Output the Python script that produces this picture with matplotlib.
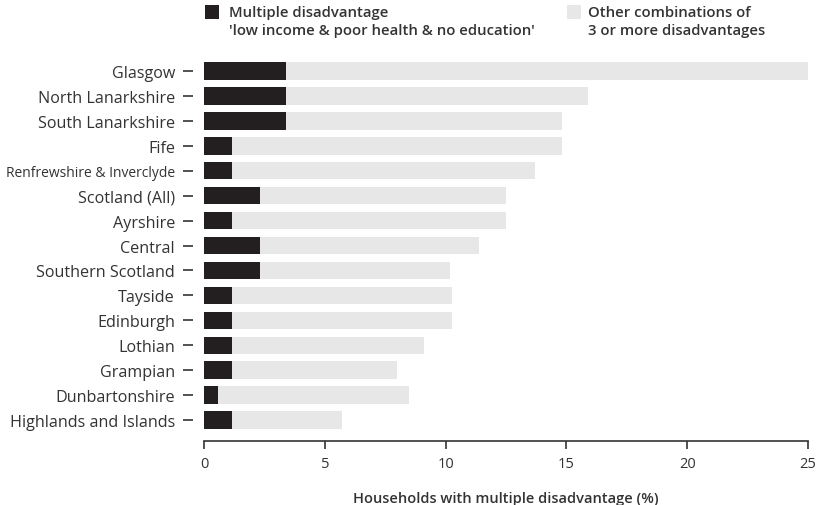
import matplotlib
matplotlib.use("Agg")
import matplotlib.pyplot as plt
from matplotlib.patches import Rectangle
import matplotlib.transforms as mtrans

regions = ["Glasgow", "North Lanarkshire", "South Lanarkshire", "Fife",
           "Renfrewshire & Inverclyde", "Scotland (All)", "Ayrshire", "Central",
           "Southern Scotland", "Tayside", "Edinburgh", "Lothian", "Grampian",
           "Dunbartonshire", "Highlands and Islands"]
multiple = [3.4, 3.4, 3.4, 1.15, 1.15, 2.3, 1.15, 2.3, 2.3, 1.15, 1.15, 1.15, 1.15, 0.6, 1.15]
other = [21.6, 12.5, 11.4, 13.65, 12.55, 10.2, 11.35, 9.1, 7.9, 9.1, 9.1, 7.95, 6.85, 7.9, 4.55]
xticks = [0, 5, 10, 15, 20, 25]
legend_multiple = ["Multiple disadvantage", "'low income & poor health & no education'"]
legend_other = ["Other combinations of", "3 or more disadvantages"]

DARK = "#231f20"
GREY = "#e6e7e6"
TXT = "#333333"
plt.rcParams['font.family'] = ['Open Sans', 'DejaVu Sans']

fig = plt.figure(figsize=(8.23, 5.06), dpi=100)
ax = fig.add_axes([204/823, 0.1265, 604/823, 0.7559])

y = list(range(len(regions)))
ax.barh(y, multiple, height=0.7, color=DARK, linewidth=0)
ax.barh(y, other, left=multiple, height=0.7, color=GREY, linewidth=0)

ax.set_xlim(0, 25)
ax.set_ylim(14.84, -0.5)
ax.set_xticks(xticks)
ax.set_xticklabels([str(t) for t in xticks], fontsize=10.5, color=TXT)
ax.set_yticks(y)
ax.set_yticklabels(regions, fontsize=11.6, color=TXT)
for lbl in ax.get_yticklabels():
    if lbl.get_text().startswith("Renfrewshire"):
        lbl.set_fontsize(10)

for s in ["top", "right", "left"]:
    ax.spines[s].set_visible(False)
ax.spines["bottom"].set_color(TXT)
ax.spines["bottom"].set_linewidth(1.2)
ax.tick_params(axis="x", direction="out", length=6, width=1.2, color=TXT, pad=5)
ax.tick_params(axis="y", direction="out", length=7, width=1.2, color=TXT, pad=6)
offset = mtrans.ScaledTranslation(-11/100, 0, fig.dpi_scale_trans)
for t in ax.yaxis.get_major_ticks():
    t.tick1line.set_transform(t.tick1line.get_transform() + offset)
    t.label1.set_transform(t.label1.get_transform() + offset)

ax.set_xlabel("Households with multiple disadvantage (%)", fontsize=10.5,
              color=TXT, fontweight="semibold", labelpad=14)

# legend
fig.patches.append(Rectangle((205/823, 1-20/506), 14/823, 14/506,
                             transform=fig.transFigure, color=DARK, linewidth=0))
fig.patches.append(Rectangle((567/823, 1-20/506), 14/823, 14/506,
                             transform=fig.transFigure, color=GREY, linewidth=0))
for i, line in enumerate(legend_multiple):
    fig.text(229/823, 1-(13+18*i)/506, line, fontsize=10.7, color=TXT,
             fontweight="semibold", va="center", ha="left")
for i, line in enumerate(legend_other):
    fig.text(588/823, 1-(13+18*i)/506, line, fontsize=10.7, color=TXT,
             fontweight="semibold", va="center", ha="left")

fig.savefig("out.png", dpi=100, facecolor="white")
